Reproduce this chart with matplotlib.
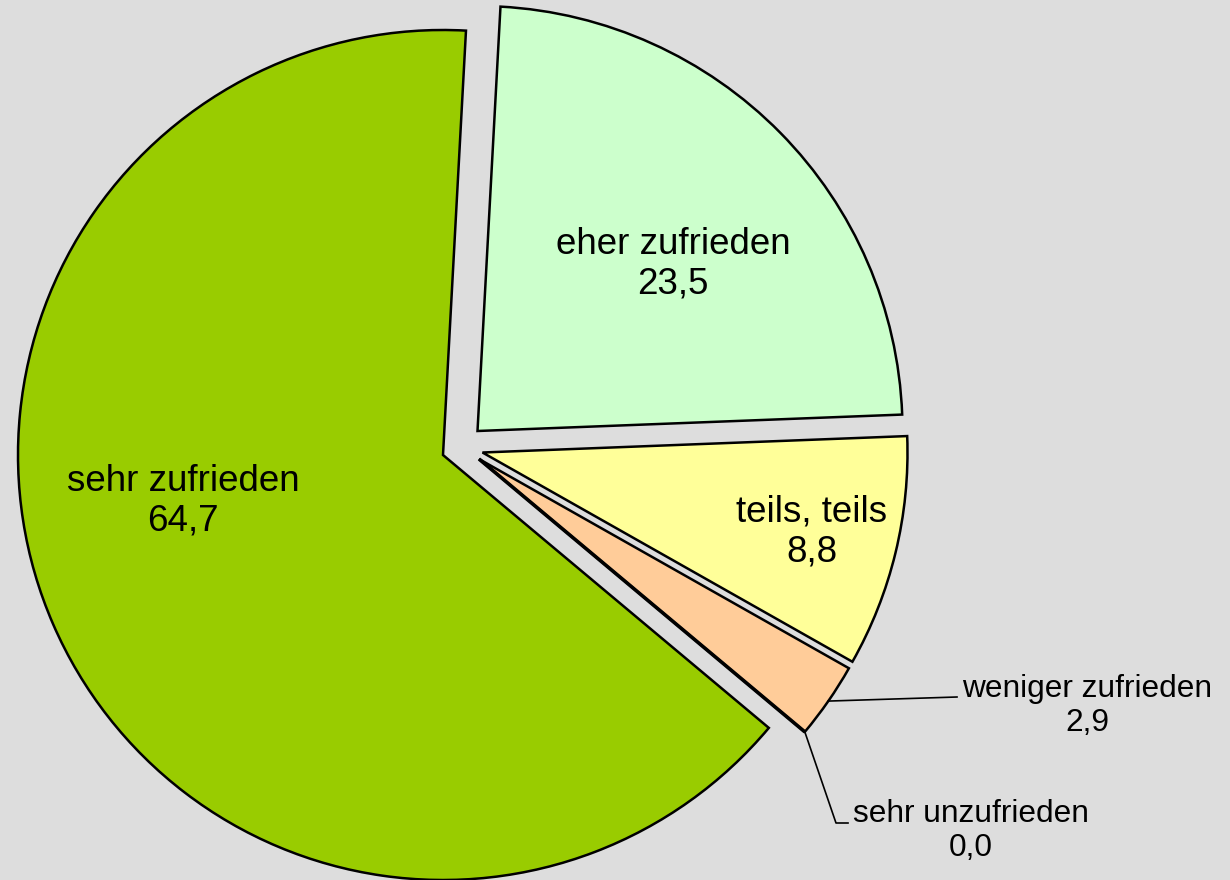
import numpy as np
import matplotlib.pyplot as plt
from matplotlib.lines import Line2D

plt.rcParams['font.family'] = ['Liberation Sans', 'DejaVu Sans']

# data (clockwise from the top)
categories = ['eher zufrieden', 'teils, teils', 'weniger zufrieden', 'sehr unzufrieden', 'sehr zufrieden']
values = [23.5, 8.8, 2.9, 0.0, 64.7]
value_labels = ['23,5', '8,8', '2,9', '0,0', '64,7']

colors = ['#CCFFCC', '#FFFF99', '#FFCC99', '#6666CC', '#99CC00']
bg = '#DDDDDD'
W, H = 1230, 880
R = 425
cx, cy = 443, H - 455
# how far each slice is pulled out of the pie (pixels, y up)
shift = [(34.5, 24), (39.5, 2.5), (36, -4), (36, -4), (0, 0)]

fig = plt.figure(figsize=(W / 100, H / 100), dpi=100, facecolor=bg)
ax = fig.add_axes([0, 0, 1, 1])
ax.set_facecolor(bg)

wedges, _ = ax.pie(values, colors=colors, startangle=86.9,
                   counterclock=False, radius=R, center=(cx, cy),
                   wedgeprops=dict(edgecolor='black', linewidth=1.8),
                   normalize=True, frame=False)
for w, (dx, dy) in zip(wedges, shift):
    w.set_center((cx + dx, cy + dy))
# the empty slice shows up as a thick line
wedges[3].set_linewidth(2.6)

ax.set_xlim(0, W)
ax.set_ylim(0, H)
ax.set_aspect('equal')
ax.axis('off')

fs_in = 26.5
fs_out = 22.8

# inside labels (pixel positions, y from top)
inside_pos = {0: (673, 264), 1: (812, 532), 4: (183, 501)}
for i, (x, y) in inside_pos.items():
    ax.text(x, H - y, categories[i] + '\n' + value_labels[i], ha='center', va='center',
            fontsize=fs_in, linespacing=1.15)


def arc_point(w, ang):
    x0, y0 = w.center
    a = np.deg2rad(ang)
    return x0 + w.r * np.cos(a), y0 + w.r * np.sin(a)


# weniger zufrieden: leader from arc middle to the right
w = wedges[2]
mid = (w.theta1 + w.theta2) / 2
px, py = arc_point(w, mid)
ax.add_line(Line2D([px, 957], [py, H - 697], color='black', lw=1.2))
ax.text(1087, H - 706, categories[2] + '\n' + value_labels[2], ha='center', va='center',
        fontsize=fs_out, linespacing=1.15)

# sehr unzufrieden: zero wedge, leader down-right
w = wedges[3]
px, py = arc_point(w, w.theta1)
ax.add_line(Line2D([px, 836, 848], [py, H - 823, H - 823], color='black', lw=1.2))
ax.text(971, H - 831, categories[3] + '\n' + value_labels[3], ha='center', va='center',
        fontsize=fs_out, linespacing=1.15)

fig.savefig('out.png', dpi=100, facecolor=bg)
